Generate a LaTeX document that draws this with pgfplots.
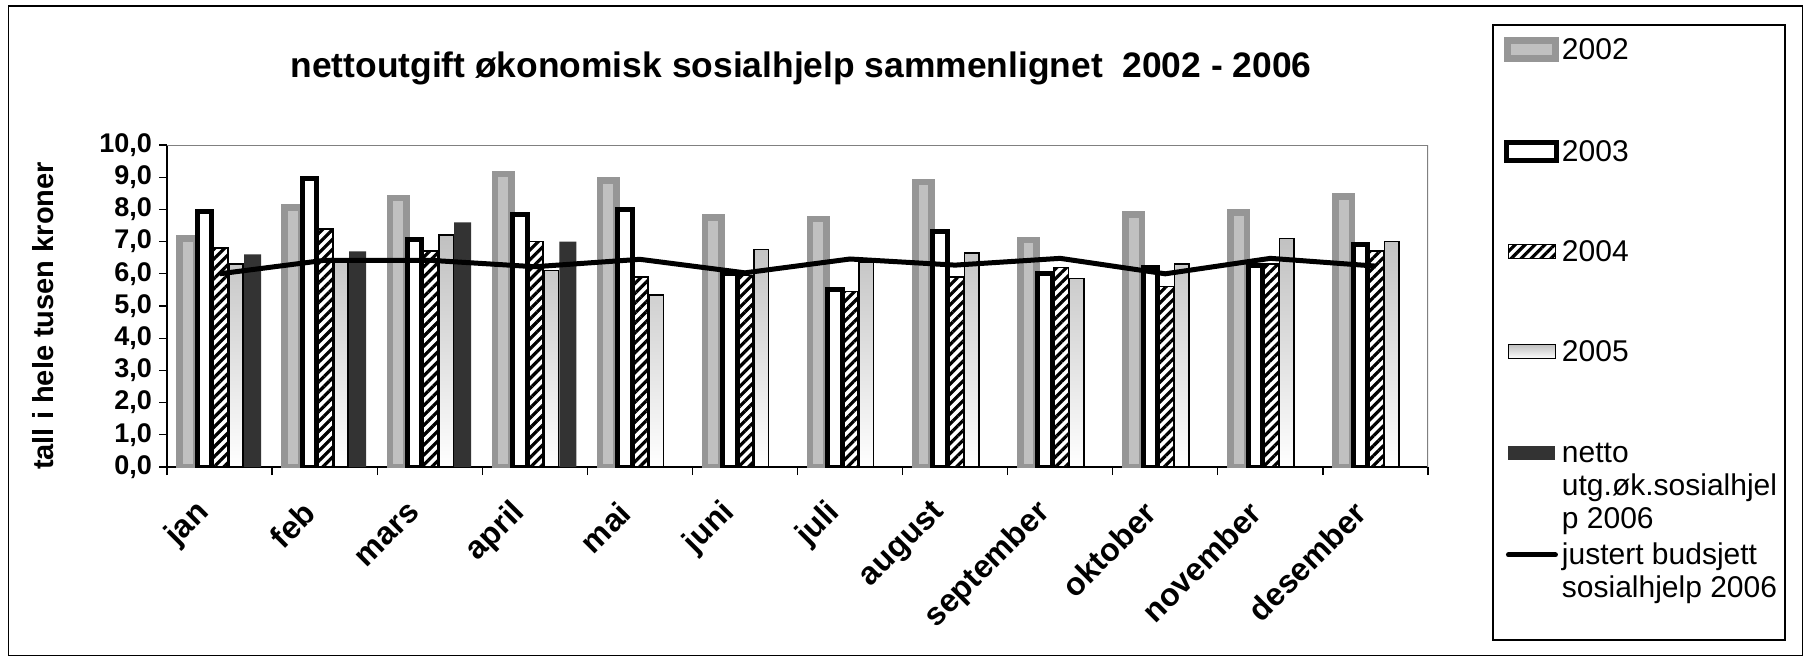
\documentclass[border=0pt]{standalone}
\usepackage{pgfplots}
\pgfplotsset{compat=1.18}
\usepackage{fontspec}
\setmainfont{Liberation Sans}
\usetikzlibrary{patterns.meta}
\definecolor{g02}{RGB}{192,192,192}
\definecolor{g02b}{RGB}{150,150,150}
\definecolor{g06}{RGB}{51,51,51}
\definecolor{frameg}{RGB}{128,128,128}

\begin{document}
\begin{tikzpicture}[x=1pt,y=1pt]
\useasboundingbox (0,0) rectangle (901.5,330.5);
\draw[black, line width=0.7pt] (4.2,2.8) rectangle (901.1,327.6);
\node[font=\bfseries\fontsize{17.7}{21}\selectfont] at (400.5,296.3) {nettoutgift økonomisk sosialhjelp sammenlignet\ \ 2002 - 2006};
\draw[black, line width=0.6pt] (746.5,10.5) rectangle (892.5,318);
\begin{axis}[
  at={(83.5pt,97pt)}, anchor=south west,
  scale only axis, width=630.5pt, height=161pt,
  xmin=-0.5, xmax=11.5, ymin=0, ymax=10,
  axis lines*=left,
  axis line style={black, line width=0.6pt},
  ytick={0,1,...,10},
  /pgf/number format/assume math mode=true,
  yticklabel style={font=\bfseries\fontsize{13.5}{16}\selectfont,
    /pgf/number format/fixed, /pgf/number format/fixed zerofill,
    /pgf/number format/precision=1, /pgf/number format/use comma, xshift=0pt},
  xtick={-0.5,0.5,...,11.5},
  x tick label as interval,
  xticklabels={jan,feb,mars,april,mai,juni,juli,august,september,oktober,november,desember},
  xticklabel style={yshift=-14pt, xshift=-5pt, font=\bfseries\fontsize{16}{18}\selectfont, rotate=45, anchor=east},
  tick align=outside,
  major tick length=4pt,
  tick style={black, line width=0.6pt},
  every axis y label/.style={at={(axis description cs:-0.0983,0.469)}, rotate=90, anchor=center},
  ylabel={\bfseries\fontsize{14.5}{16}\selectfont tall i hele tusen kroner},
  legend style={at={(axis description cs:1.0603,1.3401)}, anchor=north west, draw=none, fill=none,
    inner sep=0pt, column sep=1.5pt, row sep=0pt,
    font=\fontsize{15}{16.5}\selectfont,
    nodes={inner sep=0pt, text depth={}},
    cells={anchor=base west}},
]
\addplot[ybar, bar width=8.2pt, bar shift=-15.85pt, fill=g02, draw=g02b, line width=3.3pt,
  legend image code/.code={\draw[fill=g02, draw=g02b, line width=3.3pt] (1.65pt,0.8pt) rectangle (25.5pt,9.6pt);}]
  coordinates {(0,7.1) (1,8.05) (2,8.35) (3,9.1) (4,8.9) (5,7.75) (6,7.7) (7,8.85) (8,7.05) (9,7.85) (10,7.9) (11,8.4)};
\addlegendentry{\rule[-25pt]{0pt}{37pt}2002}
\addplot[ybar, bar width=7.25pt, bar shift=-7.5pt, fill=white, draw=black, line width=2.5pt,
  legend image code/.code={\draw[fill=white, draw=black, line width=2.5pt] (1.25pt,0.6pt) rectangle (26pt,9.8pt);}]
  coordinates {(0,7.95) (1,8.95) (2,7.05) (3,7.85) (4,8.0) (5,6.0) (6,5.5) (7,7.3) (8,6.0) (9,6.2) (10,6.25) (11,6.9)};
\addlegendentry{\rule[-25pt]{0pt}{51pt}2003}
\addplot[ybar, bar width=7.2pt, bar shift=0.5pt, draw=black, line width=0.8pt,
  pattern={Lines[angle=45, distance=3.5pt, line width=1.6pt]}, pattern color=black,
  legend image code/.code={\draw[draw=black, line width=0.8pt, pattern={Lines[angle=45, distance=3.5pt, line width=1.6pt]}, pattern color=black] (2pt,1.6pt) rectangle (25.5pt,8.6pt);}]
  coordinates {(0,6.8) (1,7.4) (2,6.7) (3,7.0) (4,5.9) (5,5.95) (6,5.45) (7,5.9) (8,6.2) (9,5.6) (10,6.3) (11,6.7)};
\addlegendentry{\rule[-25pt]{0pt}{50pt}2004}
\addplot[ybar, bar width=7.2pt, bar shift=8.2pt, draw=black, line width=0.8pt, top color=g02, bottom color=white,
  legend image code/.code={\draw[draw=black, line width=0.8pt, top color=g02, bottom color=white] (2pt,1.6pt) rectangle (25.5pt,8.6pt);}]
  coordinates {(0,6.3) (1,6.4) (2,7.2) (3,6.1) (4,5.35) (5,6.75) (6,6.35) (7,6.65) (8,5.85) (9,6.3) (10,7.1) (11,7.0)};
\addlegendentry{\rule[-25pt]{0pt}{50pt}2005}
\addplot[ybar, bar width=8.5pt, bar shift=16.5pt, fill=g06, draw=none,
  legend image code/.code={\fill[g06] (2pt,1.6pt) rectangle (25.5pt,8.6pt);}]
  coordinates {(0,6.6) (1,6.7) (2,7.6) (3,7.0)};
\addlegendentry{\parbox[t]{112pt}{\raggedright\rule{0pt}{25.5pt}netto\\utg.øk.sosialhjel\\p 2006\rule[-4pt]{0pt}{0pt}}}
\addplot[sharp plot, black, line width=2.5pt, mark=none,
  legend image code/.code={\draw[black, line width=2.5pt, line cap=round] (2pt,5pt) -- (25.5pt,5pt);}]
  coordinates {(0,6.0) (1,6.42) (2,6.42) (3,6.22) (4,6.45) (5,6.03) (6,6.46) (7,6.27) (8,6.48) (9,6.0) (10,6.48) (11,6.24)};
\addlegendentry{\parbox[t]{112pt}{\raggedright\rule{0pt}{14pt}justert budsjett\\sosialhjelp 2006}}
\draw[frameg, line width=0.6pt] (rel axis cs:0,1) -- (rel axis cs:1,1) -- (rel axis cs:1,0);
\end{axis}
\end{tikzpicture}
\end{document}
